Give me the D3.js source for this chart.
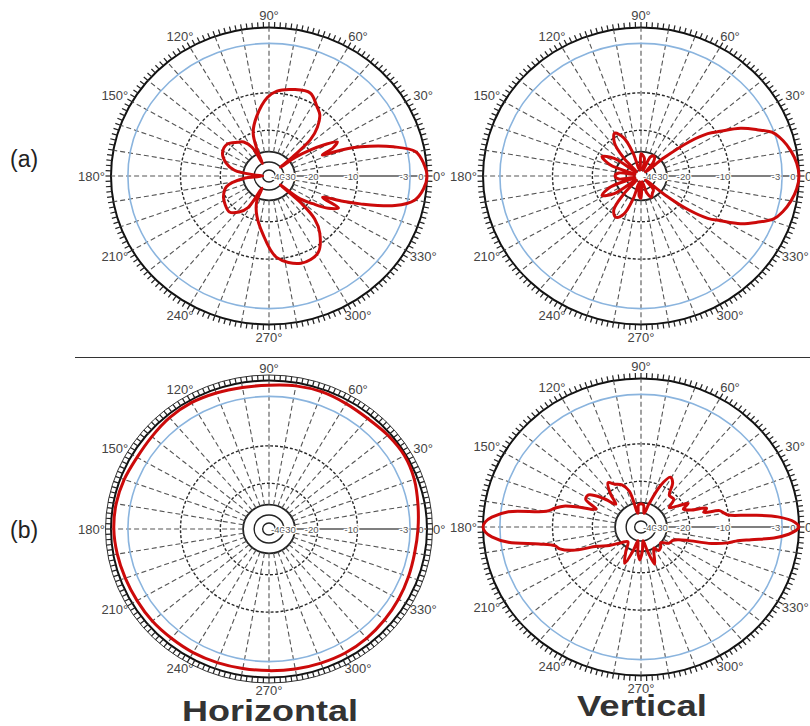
<!DOCTYPE html>
<html><head><meta charset="utf-8">
<script src="https://cdn.jsdelivr.net/npm/d3@7"></script>
<style>body{margin:0;background:#fff;} svg{display:block;font-family:"Liberation Sans",Arial,sans-serif;}</style>
</head><body>
<svg id="c" width="810" height="726"></svg>
<script>
// ---------- data ----------
const ringValues = [-45, -40, -30, -20, -10, -3, 0];
const ringLabelValues = [-40, -30, -20, -10, -3, 0];
const ringLabels = ["-40", "-30", "-20", "-10", "-3", "0"];
const angleTicks = [0, 30, 60, 90, 120, 150, 180, 210, 240, 270, 300, 330];
const angleTickLabels = ["0°", "30°", "60°", "90°", "120°", "150°", "180°", "210°", "240°", "270°", "300°", "330°"];
const panelLabels = ["(a)", "(b)"];
const columnTitles = ["Horizontal", "Vertical"];

// (a) Horizontal
const aHAngles = [0,5,10,14,18.7,21,22.8,25,28,31,34,37,39,41,43,47,52,57,65,75,85,91,101,109,113,116,119,125,131,141,152,162,170,176,180,186,195,206,215,224,232,238,242,246,254,264,275,289,301,310,315,318,320,322,326,330,334,337,340,342,346,350,355];
const aHdB = [0,-0.5,-1.6,-4.7,-8.9,-13,-17.7,-14.5,-12.8,-16,-20,-27,-40,-27,-18,-14.4,-11.5,-10.1,-8.8,-9.1,-9.7,-11.2,-16,-20,-28,-40,-26,-22,-20.5,-18.7,-19,-21.5,-26,-40,-45,-30,-22,-19.5,-18.8,-18.4,-20,-24,-40,-28,-22,-16.8,-10.4,-8.7,-9.1,-12.4,-16,-22,-40,-24,-19,-15,-12.8,-17.6,-12.5,-9,-4.5,-1.8,-0.5];

// (a) Vertical
const aVAngles = [0,5,10,15,19,23,27,31,34,37,40,44,50,58,65,72,80,90,100,108,113,120,127,132,137,145,152,159,166,172,180,188,194,201,208,215,222,228,233,240,247,252,257,265,270,280,288,295,302,310,316,320,323,326,329,333,337,341,345,350,355];
const aVdB = [0,-0.3,-1,-2,-3.1,-5,-6.9,-9.5,-12,-17,-28,-45,-36,-31,-33,-45,-36,-32,-45,-30,-22,-19,-22,-30,-45,-27,-22,-27,-45,-33,-30,-33,-45,-27,-22,-27,-45,-30,-21.5,-19.5,-22,-30,-45,-34,-32,-45,-36,-31,-34,-36,-45,-28,-17,-12,-9.5,-6.9,-5,-3.1,-2,-1,-0.3];

// (b) Horizontal
const bHAngles = [0,10,20,30,40,50,60,70,80,90,100,110,120,130,140,150,160,170,180,190,200,210,220,230,240,250,260,270,280,290,300,310,320,330,340,350];
const bHdB = [-1.6,-1.2,-0.6,-0.3,-0.5,-0.8,-0.7,-0.5,-0.6,-0.9,-0.9,-0.7,-0.5,-0.6,-0.9,-1.0,-0.7,-0.5,-0.5,-0.7,-0.9,-1.0,-1.0,-1.1,-1.1,-1.2,-1.3,-1.3,-1.2,-1.1,-1.0,-1.1,-1.3,-1.5,-1.7,-1.8];

// (b) Vertical
const bVAngles = [0,2,4.5,6.5,8.3,10,12.5,14,17,20,24,28,31,36,42,50,56,61,66,72,78,84,90,96,102,107,113,120,125,131,136,141,147,152,157,161,164,167,170,173,176,178,180,182,184,187,190,193,196,200,205,212,220,230,240,247,253,258,263,268,273,278,284,289,295,300,305,312,320,328,336,340,343,346,349,351,353,355,357,358.5];
const bVdB = [0,-0.8,-3.5,-7,-10.1,-11,-12,-16,-15,-19,-21,-18.8,-22,-26,-22,-22,-18,-17,-20,-30,-40,-32,-31,-32,-40,-24,-20,-19,-17.8,-21,-26,-20,-16.5,-16.5,-20,-16,-12,-10,-9,-4,-1.5,-0.4,0,-0.4,-1.5,-4,-8,-10,-11,-14,-20,-25,-30,-35,-28,-23,-30,-40,-30,-26,-30,-40,-30,-23,-28,-30,-28,-28.5,-30,-27,-26,-24,-20,-14,-10,-9,-7,-4,-1.8,-0.6];

// ---------- drawing ----------
const svg = d3.select("#c");
const RX = 158, RY = 148.5;
const rScale = d3.scaleLinear()
  .domain([-50, -45, -40, -30, -20, -10, -3, 0])
  .range([0, 0.04, 0.094, 0.164, 0.308, 0.56, 0.893, 1])
  .clamp(true);

function pt(cx, cy, deg, f, addX = 0, addY = 0) {
  const a = deg * Math.PI / 180;
  return [cx + (RX * f + addX) * Math.cos(a), cy - (RY * f + addY) * Math.sin(a)];
}

function drawPolar(cx, cy, angles, values, outerRing) {
  const g = svg.append("g");
  ringValues.forEach(v => {
    if (v === -3) return;
    const f = rScale(v);
    const e = g.append("ellipse").attr("cx", cx).attr("cy", cy)
      .attr("rx", RX * f).attr("ry", RY * f).attr("fill", "none");
    if (v === -20 || v === -10) {
      e.attr("stroke", "#2a2a2a").attr("stroke-width", 1.4).attr("stroke-dasharray", "3,2");
    } else if (v === 0) {
      e.attr("stroke", "#111").attr("stroke-width", 2);
    } else {
      e.attr("stroke", "#222").attr("stroke-width", v === -30 ? 1.8 : 1.4);
    }
  });
  d3.range(10, 360, 10).forEach(a => {
    const p1 = pt(cx, cy, a, rScale(-30)), p2 = pt(cx, cy, a, 1);
    g.append("line").attr("x1", p1[0]).attr("y1", p1[1]).attr("x2", p2[0]).attr("y2", p2[1])
      .attr("stroke", "#555").attr("stroke-width", 1.1).attr("stroke-dasharray", "5,3");
  });
  {
    const p1 = pt(cx, cy, 0, rScale(-30)), p2 = pt(cx, cy, 0, 1);
    g.append("line").attr("x1", p1[0]).attr("y1", p1[1]).attr("x2", p2[0]).attr("y2", p2[1])
      .attr("stroke", "#555").attr("stroke-width", 1.4);
  }
  g.append("ellipse").attr("cx", cx).attr("cy", cy)
    .attr("rx", RX * rScale(-3)).attr("ry", RY * rScale(-3))
    .attr("fill", "none").attr("stroke", "#8ab4de").attr("stroke-width", 1.6);
  d3.range(0, 360, 2).forEach(a => {
    const p1 = pt(cx, cy, a, 1), p2 = pt(cx, cy, a, 1, 5.5, 5.5);
    g.append("line").attr("x1", p1[0]).attr("y1", p1[1]).attr("x2", p2[0]).attr("y2", p2[1])
      .attr("stroke", "#222").attr("stroke-width", 1.2);
  });
  if (outerRing) {
    g.append("ellipse").attr("cx", cx).attr("cy", cy).attr("rx", RX + 5.5).attr("ry", RY + 5.5)
      .attr("fill", "none").attr("stroke", "#333").attr("stroke-width", 1);
  }
  ringLabelValues.forEach((v, i) => {
    const x = cx + RX * rScale(v) - 6;
    g.append("text").attr("x", x).attr("y", cy).attr("text-anchor", "middle")
      .attr("dominant-baseline", "central").attr("font-size", 9.5).attr("fill", "#555")
      .attr("stroke", "#fff").attr("stroke-width", 2.5).attr("paint-order", "stroke")
      .text(ringLabels[i]);
  });
  angleTicks.forEach((a, i) => {
    const c = Math.cos(a * Math.PI / 180);
    let x, y, anchor = "middle";
    if (Math.abs(c) > 0.99) {
      const p = pt(cx, cy, a, 1, 6, 0);
      x = p[0]; y = p[1]; anchor = c > 0 ? "start" : "end";
    } else {
      const p = pt(cx, cy, a, 1, 20, 12.5);
      x = p[0]; y = p[1];
    }
    g.append("text").attr("x", x).attr("y", y).attr("text-anchor", anchor)
      .attr("dominant-baseline", "central").attr("font-size", 13).attr("fill", "#444")
      .text(angleTickLabels[i]);
  });
  const pts = angles.map((a, i) => pt(cx, cy, a, rScale(values[i])));
  g.append("path")
    .attr("d", d3.line().curve(d3.curveCatmullRomClosed.alpha(0.5))(pts))
    .attr("fill", "none").attr("stroke", "#cc0a0a").attr("stroke-width", 3)
    .attr("stroke-linejoin", "round");
}

drawPolar(269, 176, aHAngles, aHdB, false);
drawPolar(641, 176, aVAngles, aVdB, false);
drawPolar(269, 529, bHAngles, bHdB, true);
drawPolar(641, 527, bVAngles, bVdB, false);

svg.append("line").attr("x1", 75).attr("x2", 810).attr("y1", 357.5).attr("y2", 357.5)
  .attr("stroke", "#333").attr("stroke-width", 1);

[[167, 0], [538, 1]].forEach(([y, i]) => {
  svg.append("text").attr("x", 10).attr("y", y).attr("font-size", 23).attr("fill", "#222")
    .text(panelLabels[i]);
});

[[270, 721, 176, 0], [642, 716, 130, 1]].forEach(([x, y, w, i]) => {
  svg.append("text").attr("x", x).attr("y", y).attr("text-anchor", "middle")
    .attr("font-size", 29).attr("font-weight", "bold").attr("fill", "#333")
    .attr("textLength", w).attr("lengthAdjust", "spacingAndGlyphs")
    .text(columnTitles[i]);
});
</script>
</body></html>
